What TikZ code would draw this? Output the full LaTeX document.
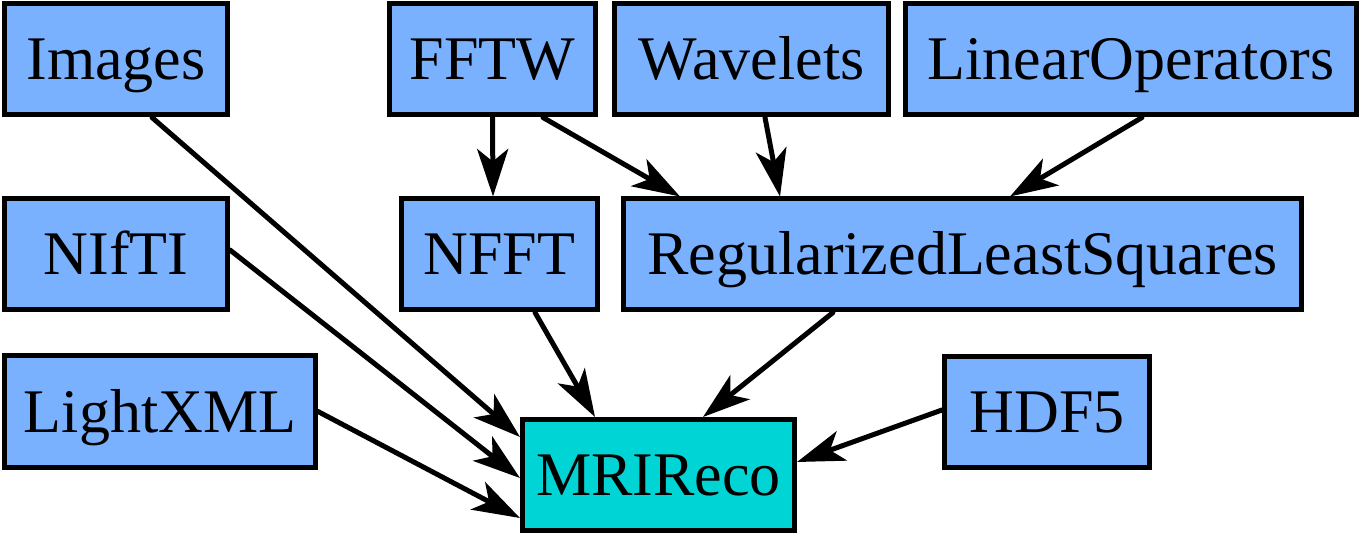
\documentclass[tikz,border=0pt]{standalone}
\usepackage{fontspec}
\setmainfont{Liberation Serif}
\usepackage{tikz}
\usetikzlibrary{arrows.meta}
\usepackage{xcolor}
\definecolor{pkgblue}{RGB}{122,177,255}
\definecolor{pkgcyan}{RGB}{0,212,212}

\begin{document}
\begin{tikzpicture}[>={Stealth[length=0.95cm,width=0.62cm,inset=0.25cm]},font=\fontsize{35.3}{40}\selectfont,line cap=round,
  pkg/.style={draw,line width=0.1cm,fill=pkgblue,minimum height=2.22cm,inner sep=0pt,text height=1.1cm,text depth=0.28cm},
  dep/.style={->,line width=0.1cm}]
\useasboundingbox (0,0) rectangle (27.2,10.68);
\node[pkg,minimum width=4.46cm] (img) at (2.32,9.49) {Images};
\node[pkg,minimum width=4.12cm] (fftw) at (9.85,9.49) {FFTW};
\node[pkg,minimum width=5.48cm] (wav) at (15.03,9.49) {Wavelets};
\node[pkg,minimum width=9.02cm] (linop) at (22.62,9.49) {LinearOperators};
\node[pkg,minimum width=4.46cm] (nifti) at (2.32,5.59) {NIfTI};
\node[pkg,minimum width=3.92cm] (nfft) at (9.99,5.59) {NFFT};
\node[pkg,minimum width=13.56cm] (rls) at (19.25,5.59) {RegularizedLeastSquares};
\node[pkg,minimum width=6.22cm] (lxml) at (3.2,2.45) {LightXML};
\node[pkg,minimum width=4.1cm] (hdf5) at (20.94,2.44) {HDF5};
\node[pkg,minimum width=5.44cm,fill=pkgcyan] (mri) at (13.17,1.18) {MRIReco};
\draw[dep] ([xshift=0.72cm]img.south) -- ([yshift=0.76cm]mri.west);
\draw[dep] ([yshift=0.09cm]nifti.east) -- ([yshift=-0.06cm]mri.west);
\draw[dep] (lxml.east) -- ([yshift=-0.86cm]mri.west);
\draw[dep] ([xshift=0.71cm]nfft.south) -- ([xshift=-1.27cm]mri.north);
\draw[dep] ([xshift=-2.59cm]rls.south) -- ([xshift=0.89cm]mri.north);
\draw[dep] ([yshift=0.04cm]hdf5.west) -- ([yshift=0.26cm]mri.east);
\draw[dep] (fftw.south) -- ([xshift=-0.13cm]nfft.north);
\draw[dep] ([xshift=1.01cm]fftw.south) -- ([xshift=-5.65cm]rls.north);
\draw[dep] ([xshift=0.27cm]wav.south) -- ([xshift=-3.65cm]rls.north);
\draw[dep] ([xshift=0.22cm]linop.south) -- ([xshift=0.95cm]rls.north);
\end{tikzpicture}
\end{document}
